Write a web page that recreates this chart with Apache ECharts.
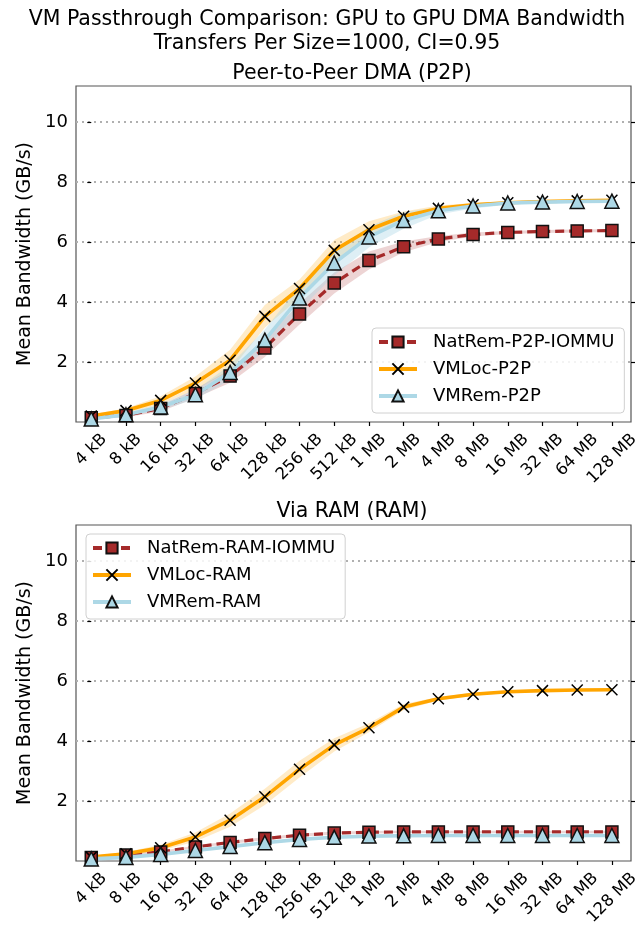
<!DOCTYPE html>
<html>
<head>
<meta charset="utf-8">
<script src="https://cdn.jsdelivr.net/npm/echarts@6/dist/echarts.min.js"></script>
<style>
html,body{margin:0;padding:0;background:#fff;}
#chart{width:636px;height:927px;}
</style>
</head>
<body>
<div id="chart"></div>
<script>
// ---------- data ----------
var categories = ['4 kB','8 kB','16 kB','32 kB','64 kB','128 kB','256 kB','512 kB','1 MB','2 MB','4 MB','8 MB','16 MB','32 MB','64 MB','128 MB'];
var yTickValues = [2, 4, 6, 8, 10];

// Peer-to-Peer DMA (P2P)
var p2pNatRem = [0.14, 0.22, 0.45, 0.95, 1.53, 2.47, 3.6, 4.63, 5.38, 5.84, 6.1, 6.25, 6.32, 6.35, 6.37, 6.38];
var p2pVMLoc  = [0.2, 0.38, 0.72, 1.3, 2.06, 3.52, 4.45, 5.72, 6.41, 6.86, 7.12, 7.24, 7.31, 7.35, 7.37, 7.39];
var p2pVMRem  = [0.1, 0.24, 0.5, 0.91, 1.65, 2.73, 4.13, 5.3, 6.17, 6.72, 7.04, 7.2, 7.3, 7.33, 7.35, 7.36];
var p2pNatRemCI = [0.04, 0.06, 0.1, 0.15, 0.22, 0.3, 0.35, 0.35, 0.3, 0.18, 0.1, 0.07, 0.05, 0.05, 0.05, 0.05];
var p2pVMLocCI  = [0.05, 0.08, 0.14, 0.22, 0.35, 0.38, 0.3, 0.35, 0.28, 0.16, 0.1, 0.06, 0.05, 0.04, 0.04, 0.04];
var p2pVMRemCI  = [0.04, 0.06, 0.1, 0.15, 0.25, 0.35, 0.4, 0.42, 0.35, 0.28, 0.12, 0.08, 0.06, 0.05, 0.05, 0.05];

// Via RAM (RAM)
var ramNatRem = [0.12, 0.2, 0.3, 0.47, 0.62, 0.75, 0.86, 0.93, 0.96, 0.97, 0.97, 0.97, 0.97, 0.97, 0.97, 0.97];
var ramVMLoc  = [0.13, 0.24, 0.44, 0.8, 1.36, 2.14, 3.06, 3.87, 4.44, 5.13, 5.41, 5.56, 5.64, 5.68, 5.7, 5.71];
var ramVMRem  = [0.07, 0.12, 0.22, 0.35, 0.48, 0.61, 0.72, 0.79, 0.83, 0.84, 0.85, 0.85, 0.85, 0.85, 0.85, 0.85];
var ramNatRemCI = [0.03, 0.03, 0.04, 0.04, 0.05, 0.05, 0.05, 0.05, 0.04, 0.04, 0.04, 0.04, 0.04, 0.04, 0.04, 0.04];
var ramVMLocCI  = [0.04, 0.06, 0.1, 0.15, 0.22, 0.27, 0.28, 0.22, 0.15, 0.1, 0.06, 0.05, 0.04, 0.04, 0.04, 0.04];
var ramVMRemCI  = [0.03, 0.03, 0.03, 0.04, 0.04, 0.04, 0.04, 0.04, 0.04, 0.04, 0.04, 0.04, 0.04, 0.04, 0.04, 0.04];

// ---------- styling ----------
var FONT = 'DejaVu Sans';
var C_NAT = '#a52a2a', C_LOC = '#ffa500', C_REM = '#add8e6';
var X_SYMBOL = 'path://M0,0L10,10M10,0L0,10';
var LABEL_FS = 16.5;
var TITLE_FS = 20.5;
var Y_MIN = 0, Y_MAX = 11.2;

function pairs(arr) { return arr.map(function (v, i) { return [i, v]; }); }

// confidence band drawn as one polygon through the axis scales
function bandSeries(mean, ci, color, gi) {
  var data = mean.map(function (v, i) { return [i, v - ci[i], v + ci[i]]; });
  return {
    type: 'custom', xAxisIndex: gi, yAxisIndex: gi * 2, data: data, silent: true, z: 1,
    encode: { x: 0, y: [1, 2] },
    renderItem: function (params, api) {
      if (params.dataIndex !== 0) return null;
      var pts = [], i;
      for (i = 0; i < data.length; i++) pts.push(api.coord([data[i][0], data[i][2]]));
      for (i = data.length - 1; i >= 0; i--) pts.push(api.coord([data[i][0], data[i][1]]));
      return { type: 'polygon', shape: { points: pts }, style: { fill: color } };
    }
  };
}

// rotated x tick labels, centred under their tick (matplotlib rotation=45 style)
var measureCtx = document.createElement('canvas').getContext('2d');
var LABEL_FONT = LABEL_FS + 'px "' + FONT + '"';
measureCtx.font = LABEL_FONT;
function tickLabelSeries(gi) {
  return {
    type: 'custom', xAxisIndex: gi, yAxisIndex: gi * 2, silent: true, clip: false, z: 5,
    data: categories.map(function (c, i) { return [i, Y_MIN]; }),
    renderItem: function (params, api) {
      var i = Math.round(api.value(0));
      var txt = categories[i];
      var pt = api.coord([i, api.value(1)]);
      var L = measureCtx.measureText(txt).width;
      var h = LABEL_FS * 1.17;
      var off = 8 + (L + h) / (2 * Math.SQRT2);
      return {
        type: 'text', x: pt[0], y: pt[1] + off, rotation: Math.PI / 4,
        style: { text: txt, font: LABEL_FONT, fill: '#000', align: 'center', verticalAlign: 'middle' }
      };
    }
  };
}

function mainSeries(name, data, gi, kind) {
  var s = { name: name, type: 'line', xAxisIndex: gi, yAxisIndex: gi * 2, data: pairs(data), z: 3 };
  if (kind === 'nat') {
    s.symbol = 'rect'; s.symbolSize = 12;
    s.lineStyle = { color: C_NAT, width: 3.2, type: [9, 5] };
    s.itemStyle = { color: C_NAT, borderColor: '#111', borderWidth: 1.5 };
  } else if (kind === 'loc') {
    s.symbol = X_SYMBOL; s.symbolSize = 11;
    s.lineStyle = { color: C_LOC, width: 3.6 };
    s.itemStyle = { color: 'rgba(0,0,0,0)', borderColor: '#000', borderWidth: 1.5 };
  } else {
    s.symbol = 'triangle'; s.symbolSize = 14;
    s.lineStyle = { color: C_REM, width: 3.6 };
    s.itemStyle = { color: C_REM, borderColor: '#111', borderWidth: 1.5 };
  }
  return s;
}

var gridTops = [86, 525];
var grids = gridTops.map(function (t) {
  return { left: 76, top: t, width: 555, height: 336, show: true, borderColor: '#555', borderWidth: 1.2,
           backgroundColor: 'transparent', containLabel: false, outerBoundsMode: 'none' };
});

var tickIdx = categories.map(function (c, i) { return i; });
var xAxes = [0, 1].map(function (gi) {
  return {
    type: 'value', gridIndex: gi, min: -0.44, max: 15.55,
    axisLine: { show: false },
    splitLine: { show: false },
    axisTick: { show: true, customValues: tickIdx, length: 4, lineStyle: { color: '#000', width: 1.2 } },
    axisLabel: { show: false }
  };
});

var yAxes = [];
[0, 1].forEach(function (gi) {
  yAxes.push({
    type: 'value', gridIndex: gi, min: Y_MIN, max: Y_MAX, interval: 2, position: 'left',
    name: 'Mean Bandwidth (GB/s)', nameLocation: 'middle', nameRotate: 90, nameGap: 40,
    nameTextStyle: { color: '#000', fontFamily: FONT, fontSize: 19 },
    axisLine: { show: false },
    axisTick: { show: true, customValues: yTickValues, length: 4, lineStyle: { color: '#000', width: 1.2 } },
    axisLabel: { customValues: yTickValues, color: '#000', fontFamily: FONT, fontSize: 18, margin: 8 },
    splitLine: { show: true, lineStyle: { color: '#b0b0b0', width: 2, type: [2, 4] } }
  });
  yAxes.push({
    type: 'value', gridIndex: gi, min: Y_MIN, max: Y_MAX, interval: 2, position: 'right',
    axisLine: { show: false },
    axisTick: { show: true, customValues: yTickValues, length: 4, lineStyle: { color: '#000', width: 1.2 } },
    axisLabel: { show: false },
    splitLine: { show: false }
  });
});

var series = [
  bandSeries(p2pNatRem, p2pNatRemCI, 'rgba(165,42,42,0.2)', 0),
  bandSeries(p2pVMLoc, p2pVMLocCI, 'rgba(255,165,0,0.22)', 0),
  bandSeries(p2pVMRem, p2pVMRemCI, 'rgba(173,216,230,0.4)', 0),
  bandSeries(ramNatRem, ramNatRemCI, 'rgba(165,42,42,0.2)', 1),
  bandSeries(ramVMLoc, ramVMLocCI, 'rgba(255,165,0,0.22)', 1),
  bandSeries(ramVMRem, ramVMRemCI, 'rgba(173,216,230,0.4)', 1),
  mainSeries('NatRem-P2P-IOMMU', p2pNatRem, 0, 'nat'),
  mainSeries('VMLoc-P2P', p2pVMLoc, 0, 'loc'),
  mainSeries('VMRem-P2P', p2pVMRem, 0, 'rem'),
  mainSeries('NatRem-RAM-IOMMU', ramNatRem, 1, 'nat'),
  mainSeries('VMLoc-RAM', ramVMLoc, 1, 'loc'),
  mainSeries('VMRem-RAM', ramVMRem, 1, 'rem'),
  tickLabelSeries(0),
  tickLabelSeries(1)
];

function legendCfg(names, left, top) {
  return {
    data: names, orient: 'vertical', left: left, top: top,
    itemWidth: 38, itemHeight: 14, itemGap: 5,
    padding: [3, 10, 6, 5],
    lineStyle: { width: 4 },
    backgroundColor: 'rgba(255,255,255,0.85)', borderColor: '#d0d0d0', borderWidth: 1, borderRadius: 4,
    textStyle: { color: '#000', fontFamily: FONT, fontSize: 18, lineHeight: 22, padding: [0, 0, 0, 11] },
    selectedMode: false
  };
}

var titleStyle = { fontFamily: FONT, fontSize: TITLE_FS, fontWeight: 'normal', color: '#000', lineHeight: 24 };
var option = {
  animation: false,
  backgroundColor: '#fff',
  textStyle: { fontFamily: FONT },
  title: [
    { text: 'VM Passthrough Comparison: GPU to GPU DMA Bandwidth\nTransfers Per Size=1000, CI=0.95', left: 327, top: 8, padding: 0, textAlign: 'center', textStyle: titleStyle },
    { text: 'Peer-to-Peer DMA (P2P)', left: 352, top: 62, padding: 0, textAlign: 'center', textStyle: titleStyle },
    { text: 'Via RAM (RAM)', left: 352, top: 500, padding: 0, textAlign: 'center', textStyle: titleStyle }
  ],
  legend: [
    legendCfg(['NatRem-P2P-IOMMU', 'VMLoc-P2P', 'VMRem-P2P'], 372, 328),
    legendCfg(['NatRem-RAM-IOMMU', 'VMLoc-RAM', 'VMRem-RAM'], 86, 534)
  ],
  grid: grids,
  xAxis: xAxes,
  yAxis: yAxes,
  series: series
};

var chart = echarts.init(document.getElementById('chart'), null, { renderer: 'canvas' });
chart.setOption(option);
</script>
</body>
</html>
